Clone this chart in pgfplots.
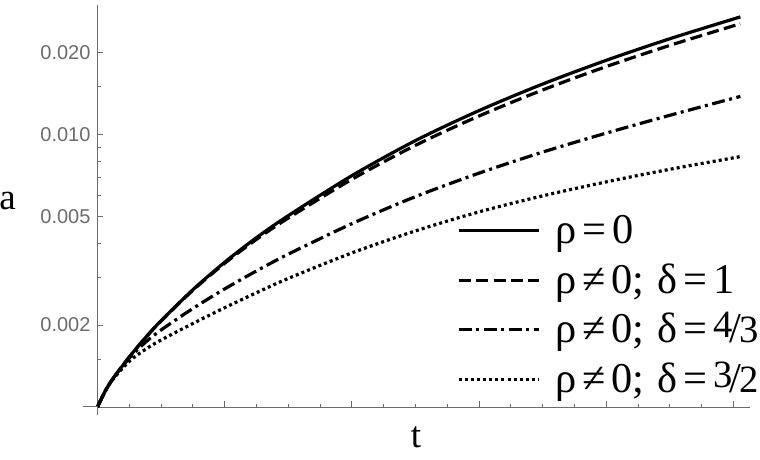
\documentclass[border=0pt]{standalone}
\usepackage{fontspec}
\setmainfont{Liberation Serif}
\newfontfamily\ticksf{Liberation Sans}
\newfontfamily\legserif{Liberation Serif}
\usepackage{pgfplots}
\pgfplotsset{compat=1.18}
\definecolor{axgray}{gray}{0.42}

% Mathematica-style inline fraction 4/3
\newcommand{\sfr}[2]{\raisebox{0.12em}{\fontsize{19.3}{19.3}\selectfont #1}\kern-0.06em/\kern-0.04em{\fontsize{19.3}{19.3}\selectfont #2}}
\newcommand{\eq}{\hspace{0.14em}=\hspace{0.14em}}
\newcommand{\nq}{\hspace{0.14em}≠\hspace{0.14em}}

\begin{document}
\begin{tikzpicture}
\useasboundingbox (-48.75pt,-26.5pt) rectangle (331.25pt,203.5pt);
\begin{axis}[
  at={(0pt,0pt)}, anchor=south west,
  scale only axis, width=326.25pt, height=201pt,
  xmin=0, xmax=1.026,
  ymode=log, ymin=0.001, ymax=0.03,
  axis x line=bottom, axis y line=left,
  axis line style={-, draw=axgray, line width=0.5pt},
  tick align=inside,
  major tick length=3pt, minor tick length=1.75pt,
  tick style={draw=axgray, line width=0.5pt},
  xtick={0.2,0.4,0.6,0.8,1.0},
  minor xtick={0.05,0.1,0.15,0.25,0.3,0.35,0.45,0.5,0.55,0.65,0.7,0.75,0.85,0.9,0.95},
  xticklabels={},
  ytick={0.002,0.005,0.01,0.02},
  yticklabels={0.002,0.005,0.010,0.020},
  minor ytick={0.0015,0.003,0.004,0.006,0.007,0.008,0.009,0.015},
  yticklabel style={font=\ticksf\fontsize{10}{12}\selectfont, text=axgray},
  clip=false,
  legend cell align=left,
  legend style={at={(0.5505,0.482)}, anchor=north west, draw=none, fill=none,
    inner sep=0pt, row sep=4.75pt, column sep=7.5pt,
    font=\legserif\fontsize{21.2}{21.2}\selectfont,
    nodes={inner sep=0pt, text height=15pt, text depth=5pt, anchor=base west}},
  legend image code/.code={\draw[#1] (0pt,6.5pt) -- (40pt,6.5pt);},
]
% rho = 0
\addplot[black, line width=1.6pt, smooth] coordinates {
  (0,0.001000) (0.0125,0.001148) (0.025,0.001278) (0.05,0.001527) (0.075,0.001794)
  (0.1,0.002075) (0.15,0.002698) (0.2,0.003405) (0.25,0.004191) (0.3,0.005048)
  (0.4,0.007082) (0.5,0.009526) (0.6,0.012280) (0.7,0.015370) (0.8,0.018790)
  (0.9,0.022550) (1.0,0.026650) (1.01,0.027080)
};
\addlegendentry{ρ\eq0}
% rho != 0, delta = 1
\addplot[black, line width=1.6pt, smooth, dash pattern=on 6pt off 2.7pt] coordinates {
  (0,0.001000) (0.0125,0.001148) (0.025,0.001278) (0.05,0.001527) (0.075,0.001792)
  (0.1,0.002070) (0.15,0.002685) (0.2,0.003374) (0.25,0.004131) (0.3,0.004947)
  (0.4,0.006865) (0.5,0.009152) (0.6,0.011730) (0.7,0.014620) (0.8,0.017820)
  (0.9,0.021320) (1.0,0.025160) (1.01,0.025560)
};
\addlegendentry{ρ\nq0;\hspace{0.3em}δ\eq1}
% rho != 0, delta = 4/3
\addplot[black, line width=1.6pt, smooth, dash pattern=on 6.5pt off 2.25pt on 1.5pt off 2.25pt] coordinates {
  (0,0.001000) (0.0125,0.001148) (0.025,0.001278) (0.05,0.001514) (0.075,0.001726)
  (0.1,0.001919) (0.15,0.002302) (0.2,0.002716) (0.25,0.003162) (0.3,0.003645)
  (0.4,0.004718) (0.5,0.005929) (0.6,0.007234) (0.7,0.008643) (0.8,0.010150)
  (0.9,0.011800) (1.0,0.013630) (1.01,0.013820)
};
\addlegendentry{ρ\nq0;\hspace{0.3em}δ\eq\sfr{4}{3}}
% rho != 0, delta = 3/2
\addplot[black, line width=1.6pt, smooth, dash pattern=on 1.5pt off 1.55pt] coordinates {
  (0,0.001000) (0.0125,0.001148) (0.025,0.001270) (0.05,0.001473) (0.075,0.001627)
  (0.1,0.001763) (0.15,0.002027) (0.2,0.002317) (0.25,0.002630) (0.3,0.002968)
  (0.4,0.003684) (0.5,0.004437) (0.6,0.005212) (0.7,0.005968) (0.8,0.006718)
  (0.9,0.007473) (1.0,0.008232) (1.01,0.008309)
};
\addlegendentry{ρ\nq0;\hspace{0.3em}δ\eq\sfr{3}{2}}
\end{axis}
% axis line stubs past the origin
\draw[axgray, line width=0.5pt] (-7.25pt,0pt) -- (0pt,0pt);
\draw[axgray, line width=0.5pt] (0pt,0pt) -- (0pt,-4pt);
% axis labels
\node[anchor=base, inner sep=0pt, font=\rmfamily\fontsize{18.5}{18.5}\selectfont] at (-45pt,98.5pt) {a};
\node[anchor=base, inner sep=0pt, font=\rmfamily\fontsize{18.5}{18.5}\selectfont] at (159.25pt,-20pt) {t};
\end{tikzpicture}
\end{document}
